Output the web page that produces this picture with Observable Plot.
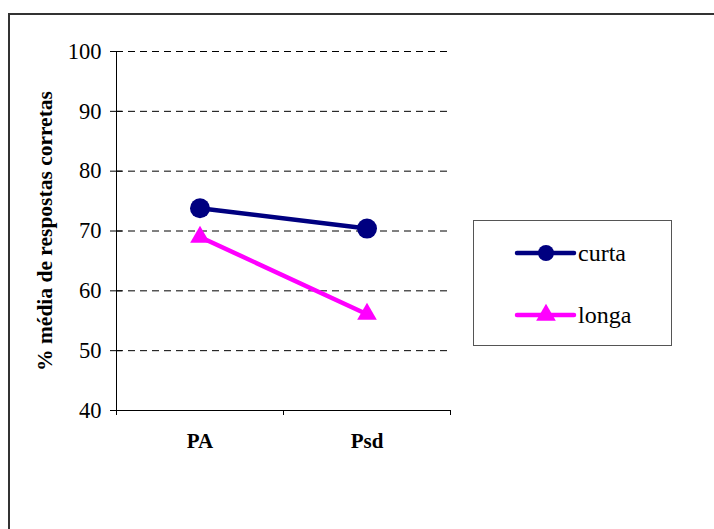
<!DOCTYPE html>
<html>
<head>
<meta charset="utf-8">
<script src="https://cdn.jsdelivr.net/npm/d3@7"></script>
<script src="https://cdn.jsdelivr.net/npm/@observablehq/plot@0.6"></script>
<style>
  html, body { margin: 0; padding: 0; background: #fff; overflow: hidden; }
  body { width: 714px; height: 529px; position: relative; font-family: "Liberation Serif", serif; }
  #frame { position: absolute; left: 8px; top: 13px; width: 720px; height: 540px; border: 2px solid #333; box-sizing: border-box; }
  #chart { position: absolute; left: 0; top: 0; }
  #legend { position: absolute; left: 473px; top: 220px; width: 199px; height: 126px; border: 1px solid #555; box-sizing: border-box; background: #fff; }
  #legend svg { display: block; }
</style>
</head>
<body>
<div id="frame"></div>
<div id="chart"></div>
<div id="legend"></div>
<script>
const categories = ["PA", "Psd"];
const seriesNames = ["curta", "longa"];
const curta = [73.8, 70.4];
const longa = [69.0, 56.1];
const colors = ["#000080", "#FF00FF"];
const symbols = ["circle", "triangle"];
const yTicks = [40, 50, 60, 70, 80, 90, 100];
const gridTicks = [50, 60, 70, 80, 90, 100];
const yLabel = "% média de respostas corretas";

const seriesValues = [curta, longa];
const data = [];
seriesNames.forEach((s, si) => {
  categories.forEach((c, i) => {
    data.push({series: s, cat: c, x: i + 0.5, value: seriesValues[si][i]});
  });
});
const boundaries = d3.range(categories.length + 1);
const centers = categories.map((c, i) => i + 0.5);

const marks = [
  Plot.ruleY(gridTicks, {stroke: "#000", strokeWidth: 1, strokeDasharray: "7,5"}),
  Plot.ruleX([0], {stroke: "#000"}),
  Plot.ruleY([40], {stroke: "#000"}),
  Plot.axisY({ticks: yTicks, tickSize: 6, tickPadding: 9, label: null, fontSize: 22.5, tickFormat: d => String(d)}),
  Plot.axisY({ticks: yTicks, tickSize: -6, tickFormat: () => "", label: null}),
  Plot.axisX({ticks: boundaries, tickSize: 5, tickFormat: () => "", label: null}),
  Plot.axisX({ticks: centers, tickSize: 0, tickPadding: 23, label: null, fontSize: 21, fontWeight: "bold", tickFormat: d => categories[Math.round(d - 0.5)]}),
  Plot.text([yLabel], {frameAnchor: "left", textAnchor: "middle", rotate: -90, dx: -71, fontWeight: "bold", fontSize: 21.5, text: d => d, fill: "#000"})
];
seriesNames.forEach((s, si) => {
  const rows = data.filter(d => d.series === s);
  marks.push(Plot.line(rows, {x: "x", y: "value", stroke: colors[si], strokeWidth: 4.5}));
});
seriesNames.forEach((s, si) => {
  const rows = data.filter(d => d.series === s);
  marks.push(Plot.dot(rows, {x: "x", y: "value", fill: colors[si], stroke: "none", symbol: symbols[si], r: si === 0 ? 10 : 7.3}));
});

const chart = Plot.plot({
  width: 714,
  height: 529,
  marginLeft: 116,
  marginRight: 264,
  marginTop: 51,
  marginBottom: 119,
  style: {fontFamily: "Liberation Serif", color: "#000", background: "transparent", overflow: "visible"},
  x: {type: "linear", domain: [0, categories.length], axis: null},
  y: {domain: [40, 100], axis: null},
  marks
});
document.getElementById("chart").appendChild(chart);

// Legend
const legendSvg = d3.select("#legend").append("svg").attr("width", 197).attr("height", 124);
const legendRows = [32, 94];
seriesNames.forEach((s, si) => {
  const g = legendSvg.append("g").attr("transform", `translate(0,${legendRows[si]})`);
  g.append("line").attr("x1", 43).attr("x2", 100).attr("y1", 0).attr("y2", 0)
    .attr("stroke", colors[si]).attr("stroke-width", 4.5).attr("stroke-linecap", "round");
  const sym = si === 0 ? d3.symbolCircle : d3.symbolTriangle;
  const size = Math.PI * (si === 0 ? 8 : 7.3) ** 2;
  g.append("path").attr("d", d3.symbol(sym, size)()).attr("transform", "translate(72,0)").attr("fill", colors[si]);
  g.append("text").attr("x", 104).attr("y", 0).attr("dy", "0.32em")
    .attr("font-family", "Liberation Serif").attr("font-size", 24).attr("fill", "#000").text(s);
});
</script>
</body>
</html>
